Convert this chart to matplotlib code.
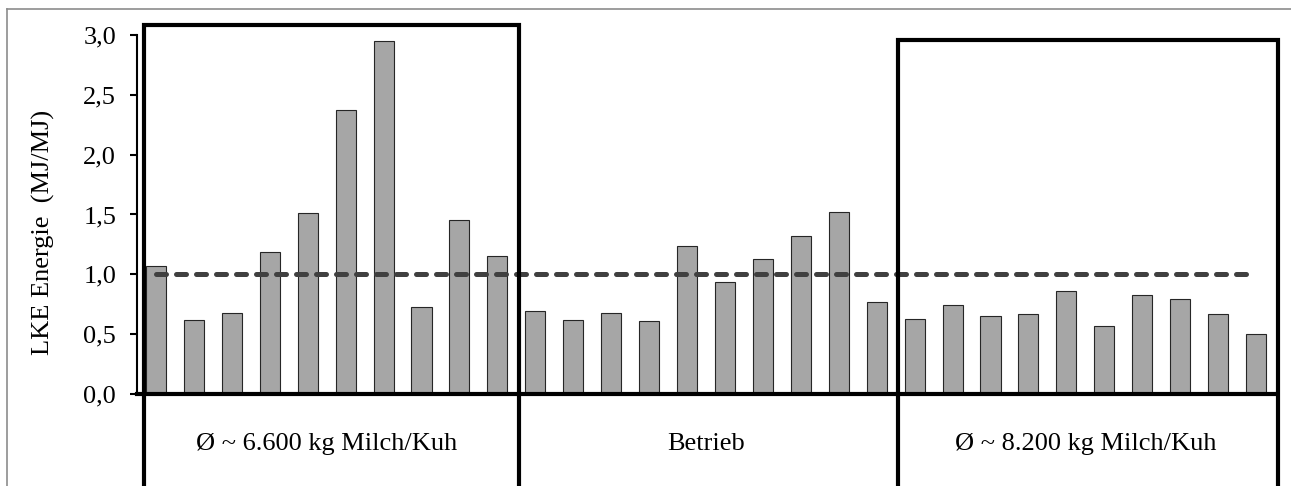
"""
LKE Energie je Betrieb, drei Gruppen mit Rahmen
"""
import matplotlib
matplotlib.use("Agg")
import matplotlib.pyplot as plt
from matplotlib.patches import Rectangle
from matplotlib.lines import Line2D
from matplotlib.ticker import FuncFormatter

# Werte je Betrieb (MJ/MJ), 3 Gruppen zu je 10 Betrieben
lke_low = [1.07, 0.62, 0.68, 1.19, 1.51, 2.37, 2.95, 0.73, 1.45, 1.15]
lke_mid = [0.69, 0.62, 0.68, 0.61, 1.24, 0.94, 1.13, 1.32, 1.52, 0.77]
lke_high = [0.63, 0.74, 0.65, 0.67, 0.86, 0.57, 0.83, 0.79, 0.67, 0.50]
reference = 1.0
group_labels = ["Ø ~ 6.600 kg Milch/Kuh", "Betrieb", "Ø ~ 8.200 kg Milch/Kuh"]
y_ticks = [0.0, 0.5, 1.0, 1.5, 2.0, 2.5, 3.0]

values = lke_low + lke_mid + lke_high
x = list(range(len(values)))

plt.rcParams["font.family"] = ["Liberation Serif", "DejaVu Serif"]
FONT_SIZE = 19

fig = plt.figure(figsize=(12.91, 4.86), dpi=100)
ax = fig.add_axes([137 / 1291, 92 / 486, 1138 / 1291, 359 / 486])

ax.bar(x, values, width=0.53, color="#a6a6a6", edgecolor="#262626", linewidth=0.8, zorder=2)
ax.plot([x[0], x[-1]], [reference, reference], color="#404040", linewidth=3.6,
        dashes=(2, 2), dash_capstyle="round", zorder=3)

ax.set_xlim(-0.5, len(values) - 0.5)
ax.set_ylim(0, 3.0)
ax.set_yticks(y_ticks)
ax.yaxis.set_major_formatter(FuncFormatter(lambda v, _: f"{v:.1f}".replace(".", ",")))
ax.tick_params(axis="y", direction="out", length=5, width=1.5, pad=10, labelsize=FONT_SIZE)
ax.set_xticks([])

for side in ["top", "right"]:
    ax.spines[side].set_visible(False)
ax.spines["left"].set_linewidth(1.5)
ax.spines["bottom"].set_linewidth(3)
ax.spines["bottom"].set_zorder(4)

# Rahmen um die beiden Leistungsgruppen, nach unten aus dem Bild laufend
for (x0, x1, top) in [(-0.32, 9.57, 3.083), (19.56, 29.58, 2.958)]:
    ax.add_patch(Rectangle((x0, -1.0), x1 - x0, top + 1.0, fill=False,
                           edgecolor="black", linewidth=3, clip_on=False, zorder=5))

# Gruppenbeschriftung unter der Achse
trans = ax.get_xaxis_transform()
for i, label in enumerate(group_labels):
    ax.text(i * 10 + 4.5, -0.139, label, transform=trans, ha="center", va="center",
            fontsize=FONT_SIZE)

ax.text(-0.082, 0.45, "LKE Energie  (MJ/MJ)", transform=ax.transAxes, rotation=90,
        ha="center", va="center", fontsize=FONT_SIZE)

# grauer Diagrammrahmen (oben, links)
fig.add_artist(Line2D([7 / 1291, 1.0], [1 - 9 / 486, 1 - 9 / 486], color="#8c8c8c",
                      linewidth=1.2, transform=fig.transFigure))
fig.add_artist(Line2D([7 / 1291, 7 / 1291], [0.0, 1 - 9 / 486], color="#8c8c8c",
                      linewidth=1.2, transform=fig.transFigure))

fig.savefig("out.png", dpi=100)
